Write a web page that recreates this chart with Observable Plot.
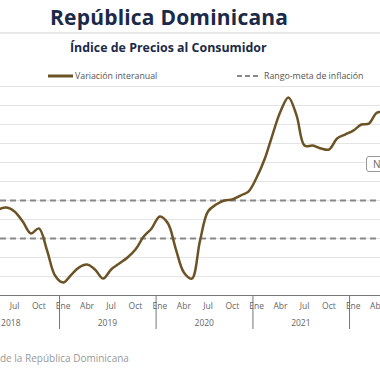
<!DOCTYPE html>
<html><head><meta charset="utf-8">
<script src="https://cdn.jsdelivr.net/npm/d3@7"></script>
<script src="https://cdn.jsdelivr.net/npm/@observablehq/plot@0.6"></script>
<style>
body{margin:0;width:380px;height:380px;overflow:hidden;background:#fff;font-family:"Open Sans",sans-serif;position:relative}
#chart{position:absolute;left:0;top:0}
.title{position:absolute;left:50px;top:3px;font-size:21px;font-weight:700;color:#1b2a48;white-space:nowrap;letter-spacing:0.2px}
.sep{position:absolute;left:0;top:32px;width:380px;height:2px;background:#e8e8e8}
.subtitle{position:absolute;left:70px;top:39px;font-size:12.4px;font-weight:700;color:#1b2a48;white-space:nowrap}
.leg{position:absolute;top:70px;font-size:8.8px;color:#555;white-space:nowrap;display:flex;align-items:center}
.leg svg{margin-right:2px}
.source{position:absolute;left:0;top:351px;font-size:10px;color:#999;white-space:nowrap}
.tip{position:absolute;left:366px;top:156px;width:60px;height:14px;border:1px solid #999;border-radius:3px;background:#fff;font-size:10px;color:#666;padding-left:6px;line-height:14px}
</style></head><body>
<div id="chart"></div>
<div class="title">República Dominicana</div>
<div class="sep"></div>
<div class="subtitle">Índice de Precios al Consumidor</div>
<div class="leg" style="left:48px"><svg width="25" height="6"><line x1="0" y1="3" x2="25" y2="3" stroke="#6b5326" stroke-width="3"/></svg>Variación interanual</div>
<div class="leg" style="left:237px"><svg width="25" height="6"><line x1="0" y1="3" x2="24" y2="3" stroke="#888" stroke-width="2" stroke-dasharray="5,3"/></svg>Rango-meta de inflación</div>
<div class="tip">N</div>
<div class="source">de la República Dominicana</div>
<script>
const periods = ["2018-05","2018-06","2018-07","2018-08","2018-09","2018-10","2018-11","2018-12",
"2019-01","2019-02","2019-03","2019-04","2019-05","2019-06","2019-07","2019-08","2019-09","2019-10","2019-11","2019-12",
"2020-01","2020-02","2020-03","2020-04","2020-05","2020-06","2020-07","2020-08","2020-09","2020-10","2020-11","2020-12",
"2021-01","2021-02","2021-03","2021-04","2021-05","2021-06","2021-07","2021-08","2021-09","2021-10","2021-11","2021-12",
"2022-01","2022-02","2022-03","2022-04","2022-05"];
const inflation = [4.53,4.63,4.42,3.89,3.26,3.53,2.37,1.05,
0.68,1.10,1.47,1.63,1.37,0.89,1.37,1.68,2.00,2.42,3.10,3.53,
4.16,3.79,2.47,1.21,0.89,2.89,4.42,4.79,5.00,5.05,5.26,5.47,
6.21,7.21,8.42,9.68,10.42,9.47,7.89,7.89,7.74,7.68,8.26,8.47,
8.68,9.00,9.05,9.63,9.60];
const targetRange = [3, 5];
const gridValues = [1,2,3,4,5,6,7,8,9,10,11];
const years = [2018, 2019, 2020, 2021, 2022];
const monthLabels = ["Ene","Abr","Jul","Oct"];

const xDomain = [new Date(2018,4,23), new Date(2022,3,28)];
const inView = d => d >= xDomain[0] && d <= xDomain[1];
const parse = s => { const [y,m] = s.split("-").map(Number); return new Date(y, m-1, 15); };
const data = periods.map((p,i) => ({date: parse(p), value: inflation[i]}));
const monthTicks = years.flatMap(y => [0,3,6,9].map(m => new Date(y, m, 15))).filter(inView);
const yearStarts = years.map(y => new Date(y, 0, 1)).filter(inView);
const yearMids = years.map(y => new Date(y, 6, 1)).filter(inView);

const chart = Plot.plot({
  width: 380, height: 380,
  marginLeft: 0, marginRight: 0, marginTop: 86, marginBottom: 85,
  style: {fontFamily: "Open Sans", background: "transparent"},
  x: {type: "time", domain: xDomain},
  y: {domain: [0, 11], axis: null},
  marks: [
    Plot.ruleY(gridValues, {stroke: "#e4e4e4", strokeWidth: 1}),
    Plot.ruleY(targetRange, {stroke: "#888", strokeWidth: 2, strokeDasharray: "6,4"}),
    Plot.line(data, {x: "date", y: "value", curve: "catmull-rom", stroke: "#6b5326", strokeWidth: 2.5, clip: true}),
    Plot.ruleY([0], {stroke: "#777", strokeWidth: 1}),
    Plot.axisX(yearStarts, {tickSize: 34, tickFormat: () => "", stroke: "#777"}),
    Plot.axisX(monthTicks, {tickSize: 0, tickPadding: 7, tickFormat: d => monthLabels[d.getMonth()/3], fontSize: 8.5, fill: "#666"}),
    Plot.axisX(yearMids, {tickSize: 0, tickPadding: 24, tickFormat: d => String(d.getFullYear()), fontSize: 8.5, fill: "#666"})
  ]
});
document.getElementById("chart").appendChild(chart);
</script>
</body></html>
